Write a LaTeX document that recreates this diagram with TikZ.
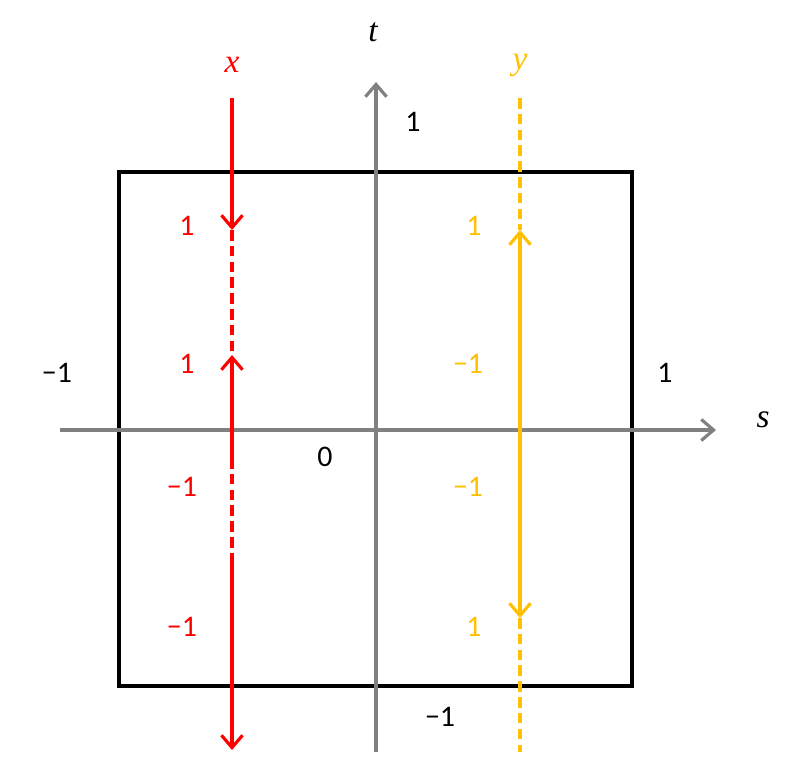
\documentclass[tikz,border=0pt]{standalone}
\usepackage{fontspec}
\setmainfont{Carlito}
\newfontfamily\serifit{Liberation Serif}
\usetikzlibrary{arrows.meta}
\definecolor{myred}{HTML}{FF0000}
\definecolor{myyel}{HTML}{FFC000}
\definecolor{mygray}{HTML}{808080}
\begin{document}
\begin{tikzpicture}[x=0.02cm,y=-0.02cm,
  lbl/.style={font=\fontsize{17}{20}\selectfont},
  var/.style={font=\fontsize{19}{22}\selectfont\serifit\itshape},
  ax/.style={mygray,line width=1.8pt,-{Straight Barb[length=7pt,width=12pt,line width=1.8pt]}},
  ln/.style={line width=1.8pt},
  dsh/.style={line width=1.8pt,dash pattern=on 6pt off 3pt},
  tip/.style={-{Straight Barb[length=7pt,width=12pt,line width=1.8pt]}}]
\useasboundingbox (0,0) rectangle (800,773);
\draw[line width=1.8pt] (119,172) rectangle (632,686);
\coordinate (hl) at (60,430); \coordinate (hr) at (716,430);
\coordinate (vb) at (376,752); \coordinate (vt) at (376,82);
\draw[ax] (hl) -- (hr);
\draw[ax] (vb) -- (vt);
\node[var] (t) at (373,32) {t};
\node[var] (s) at (763,420) {s};
\node[var,myred] (x) at (232,65) {x};
\node[var,myyel] (y) at (520,65) {y};
\node[lbl] at (413,122) {1};
\node[lbl] at (57,373) {−1};
\node[lbl] at (665,373) {1};
\node[lbl] at (325,457) {0};
\node[lbl] at (440,717) {−1};
\begin{scope}[myred]
\node[lbl] at (187,226) {1};
\node[lbl] at (187,364) {1};
\node[lbl] at (182,487) {−1};
\node[lbl] at (182,627) {−1};
\coordinate (r0) at (232,98); \coordinate (r1) at (232,230);
\coordinate (r2) at (232,355); \coordinate (r3) at (232,458);
\coordinate (r4) at (232,563); \coordinate (r5) at (232,750);
\draw[ln,tip] (r0) -- (r1);
\draw[dsh] (r1) -- (r2);
\draw[ln,tip] (r3) -- (r2);
\draw[dsh] (r3) -- (r4);
\draw[ln,tip] (r4) -- (r5);
\end{scope}
\begin{scope}[myyel]
\node[lbl] at (474,226) {1};
\node[lbl] at (468,364) {−1};
\node[lbl] at (468,487) {−1};
\node[lbl] at (474,627) {1};
\coordinate (y0) at (520,98); \coordinate (y1) at (520,230);
\coordinate (ym) at (520,430); \coordinate (y2) at (520,618);
\coordinate (y3) at (520,752);
\draw[dsh] (y0) -- (y1);
\draw[ln,tip] (ym) -- (y1);
\draw[ln,tip] (ym) -- (y2);
\draw[dsh] (y2) -- (y3);
\end{scope}
\end{tikzpicture}
\end{document}
